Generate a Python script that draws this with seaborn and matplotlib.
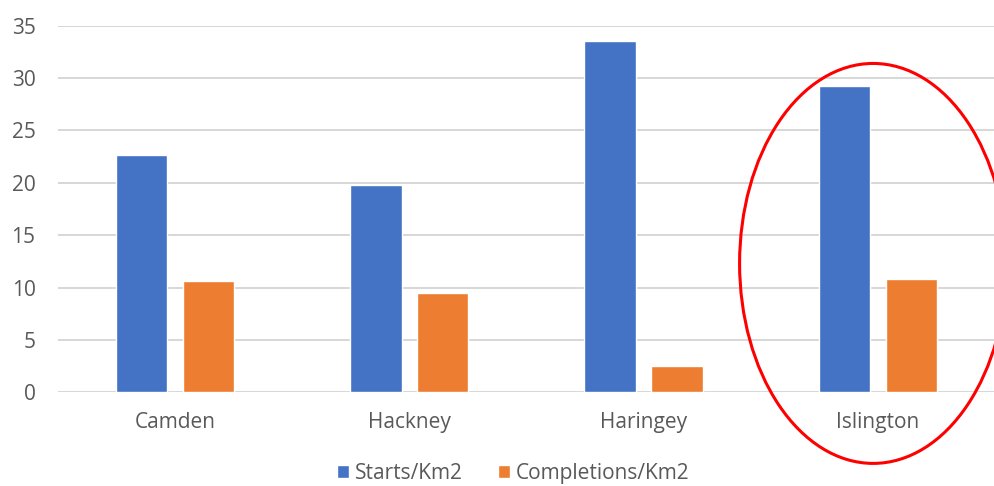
import pandas as pd
import matplotlib.pyplot as plt
import seaborn as sns
from matplotlib.patches import Ellipse

boroughs = ["Camden", "Hackney", "Haringey", "Islington"]
starts = [22.7, 19.8, 33.5, 29.2]
completions = [10.6, 9.5, 2.5, 10.8]
series = ["Starts/Km2", "Completions/Km2"]
colors = ["#4472C4", "#ED7D31"]

df = pd.DataFrame({
    "borough": boroughs * 2,
    "value": starts + completions,
    "series": [series[0]] * len(boroughs) + [series[1]] * len(boroughs),
})

sns.set_style("white")
plt.rcParams['font.family'] = ['Open Sans', 'DejaVu Sans']
text_grey = "#595959"
fs = 15

fig = plt.figure(figsize=(9.95, 4.86), dpi=100)
ax = fig.add_axes([0.058, 0.193, 0.942, 0.754])

sns.barplot(data=df, x="borough", y="value", hue="series", palette=colors,
            width=0.57, gap=0.23, ax=ax, saturation=1, legend=True)

ax.set_ylim(0, 35)
ax.set_yticks(range(0, 36, 5))
ax.yaxis.grid(True, color="#d4d4d4", linewidth=1.3)
ax.set_axisbelow(True)
for s in ax.spines.values():
    s.set_visible(False)
ax.tick_params(axis="y", length=0, pad=16, labelsize=fs, labelcolor=text_grey)
ax.tick_params(axis="x", length=0, pad=14, labelsize=fs, labelcolor=text_grey)
ax.set_xlabel("")
ax.set_ylabel("")

ax.legend(loc="center", bbox_to_anchor=(0.486, -0.222), ncol=2, frameon=False,
          fontsize=fs, labelcolor=text_grey, handlelength=0.55, handleheight=0.55,
          handletextpad=0.3, columnspacing=1.7, borderpad=0)

# red ring around Islington
ax.add_patch(Ellipse((2.98, 12.3), 1.14, 38.2, fill=False, edgecolor="red",
                     linewidth=2.2, clip_on=False))

fig.savefig("out.png", dpi=100)
